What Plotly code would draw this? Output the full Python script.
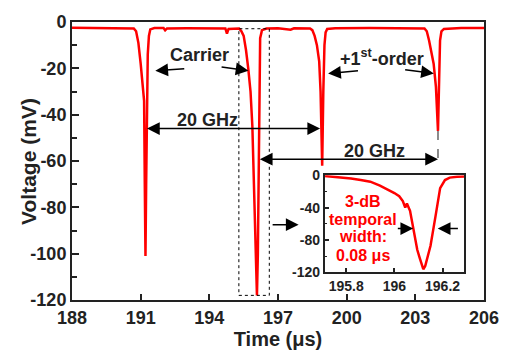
import plotly.graph_objects as go

# Oscilloscope trace: time in microseconds, voltage in mV
main_t = [188.0, 189.0, 190.0, 190.7, 190.8, 190.9, 191.0, 191.09, 191.15, 191.18, 191.21,
          191.24, 191.27, 191.31, 191.36, 191.42, 191.6, 192.0, 192.07, 192.15, 193.0,
          194.0, 194.7, 194.77, 194.84, 195.3, 195.4, 195.5, 195.6, 195.7, 195.8, 195.88,
          195.95, 196.02, 196.08, 196.12, 196.15, 196.18, 196.22, 196.3, 196.5, 197.0,
          197.55, 197.7, 198.4, 198.5, 198.6, 198.7, 198.8, 198.86, 198.93, 198.98,
          199.03, 199.08, 199.15, 199.5, 201.0, 203.4, 203.5, 203.6, 203.7, 203.8,
          203.9, 203.99, 204.04, 204.08, 204.14, 204.25, 205.0, 206.0]
main_v = [-2.5, -2.7, -2.6, -2.8, -4, -9, -18, -30, -34, -70, -101,
          -70, -35, -14, -6, -3.2, -2.6, -2.6, -3.6, -2.8, -2.7,
          -2.6, -2.8, -5, -3, -2.8, -4, -6, -12, -20, -30, -45,
          -70, -100, -118, -100, -60, -20, -7, -3.5, -2.8, -2.7,
          -3.3, -2.7, -2.8, -3.5, -6, -10, -17, -30, -62, -30,
          -10, -4.5, -3, -2.7, -2.6, -2.8, -4, -8, -13, -18,
          -28, -47, -25, -8, -4, -3, -2.6, -2.6]

# Zoomed view of the carrier dip
inset_t = [195.71, 195.76, 195.82, 195.86, 195.9, 195.94, 195.97, 196.0, 196.02, 196.035,
           196.045, 196.052, 196.065, 196.075, 196.085, 196.095, 196.105, 196.115, 196.12,
           196.128, 196.14, 196.15, 196.17, 196.19, 196.21, 196.23, 196.26, 196.29]
inset_v = [-1, -2, -4, -6, -8, -13, -17, -22, -26, -32,
           -40, -35, -44, -60, -79, -92, -102, -112, -116,
           -112, -100, -87, -52, -16, -6, -3, -2, -1.5]

x_ticks = [188, 191, 194, 197, 200, 203, 206]
y_ticks = [0, -20, -40, -60, -80, -100, -120]
y_labels = ["0", "-20", "-40", "-60", "-80", "-100", "-120"]
inset_x_ticks = [195.8, 196.0, 196.2]
inset_x_labels = ["195.8", "196", "196.2"]
inset_y_ticks = [0, -40, -80, -120]
inset_y_labels = ["0", "-40", "-80", "-120"]

FONT = "Liberation Sans, Arial, sans-serif"
DARK = "#222222"


def b(items):
    return ["<b>%s</b>" % s for s in items]


fig = go.Figure()
fig.add_trace(go.Scatter(x=main_t, y=main_v, mode="lines",
                         line=dict(color="#ff0000", width=2.5),
                         xaxis="x", yaxis="y", showlegend=False))
fig.add_trace(go.Scatter(x=inset_t, y=inset_v, mode="lines",
                         line=dict(color="#ff0000", width=2.5),
                         xaxis="x2", yaxis="y2", showlegend=False))

bold = dict(family=FONT, color=DARK)

fig.update_layout(
    width=511, height=356,
    margin=dict(l=72, r=20, t=12, b=52),
    paper_bgcolor="white", plot_bgcolor="white",
    font=dict(family=FONT, color=DARK),
    xaxis=dict(range=[188, 206], tickvals=x_ticks, ticktext=b([str(v) for v in x_ticks]),
               ticks="inside", ticklen=6,
               tickwidth=2, tickcolor=DARK, showline=True, linewidth=2, linecolor=DARK,
               mirror=True, showgrid=False, zeroline=False,
               tickfont=dict(size=18, **bold),
               title=dict(text="<b>Time (μs)</b>", font=dict(size=20, **bold), standoff=2)),
    yaxis=dict(range=[-120, 0], tickvals=y_ticks, ticktext=b(y_labels),
               ticks="inside", ticklen=7, tickwidth=2,
               tickcolor=DARK, showline=True, linewidth=2, linecolor=DARK, mirror=True,
               showgrid=False, zeroline=False,
               minor=dict(dtick=10, ticks="inside", ticklen=5, tickwidth=1.5, tickcolor=DARK),
               tickfont=dict(size=18, **bold)),
    xaxis2=dict(domain=[0.613, 0.952], anchor="y2", range=[195.71, 196.29],
                tickvals=inset_x_ticks, ticktext=b(inset_x_labels), ticks="inside",
                ticklen=5, tickwidth=1.5, tickcolor=DARK, showline=True, linewidth=1.5,
                linecolor=DARK, mirror=True, showgrid=False, zeroline=False,
                tickfont=dict(size=14, **bold)),
    yaxis2=dict(domain=[0.099, 0.449], anchor="x2", range=[-120, 0],
                tickvals=inset_y_ticks, ticktext=b(inset_y_labels),
                ticks="inside", ticklen=5, tickwidth=1.5, tickcolor=DARK, showline=True,
                linewidth=1.5, linecolor=DARK, mirror=True, showgrid=False, zeroline=False,
                minor=dict(dtick=20, ticks="inside", ticklen=3, tickwidth=1, tickcolor=DARK),
                tickfont=dict(size=14, **bold)),
)

# y-axis title placed close to the tick labels
fig.add_annotation(xref="paper", yref="paper", x=-0.107, y=0.5, text="<b>Voltage (mV)</b>",
                   textangle=-90, showarrow=False, xanchor="center", yanchor="middle",
                   font=dict(family=FONT, size=21, color=DARK))

# Dotted box marking the zoomed region, and dashed guide under the +1st-order dip
fig.add_shape(type="rect", xref="x", yref="y", x0=195.29, x1=196.62, y0=-118, y1=-2.9,
              line=dict(color="black", width=1, dash="dot"))
fig.add_shape(type="line", xref="x", yref="y", x0=203.99, x1=203.99, y0=-47, y1=-62,
              line=dict(color="#666666", width=1.5, dash="dash"))


def arrow(x, y, ax, ay, both=False, xr="x", yr="y"):
    fig.add_annotation(x=x, y=y, ax=ax, ay=ay, xref=xr, yref=yr, axref=xr, ayref=yr,
                       text="", showarrow=True, arrowhead=2, arrowsize=1.7,
                       arrowwidth=1.5, arrowcolor="black", standoff=0, startstandoff=0,
                       arrowside="end+start" if both else "end", startarrowhead=2,
                       startarrowsize=1.7)


def label(x, y, text, size=18, color=DARK, xr="x", yr="y"):
    fig.add_annotation(x=x, y=y, xref=xr, yref=yr, text="<b>%s</b>" % text, showarrow=False,
                       font=dict(family=FONT, size=size, color=color))


label(193.57, -14.4, "Carrier")
arrow(191.64, -21, 192.97, -20.1)
arrow(195.71, -21, 194.47, -19.3)

label(201.55, -15.2, "+1<sup>st</sup>-order")
arrow(199.19, -22.2, 200.56, -21)
arrow(203.81, -22.2, 202.49, -20.5)

label(193.91, -42.3, "20 GHz")
arrow(198.84, -46, 191.21, -46, both=True)

label(201.2, -55.5, "20 GHz")
arrow(203.99, -59.2, 196.14, -59.2, both=True)

arrow(197.9, -87.5, 196.7, -87.5)

for yv, line in zip([-33, -55, -76, -99], ["3-dB", "temporal", "width:", "0.08 μs"]):
    label(195.87, yv, line, size=16, color="#ff0000", xr="x2", yr="y2")
arrow(196.078, -65.9, 196.008, -65.9, xr="x2", yr="y2")
arrow(196.18, -65.9, 196.27, -65.9, xr="x2", yr="y2")

fig.write_html("out.html")
